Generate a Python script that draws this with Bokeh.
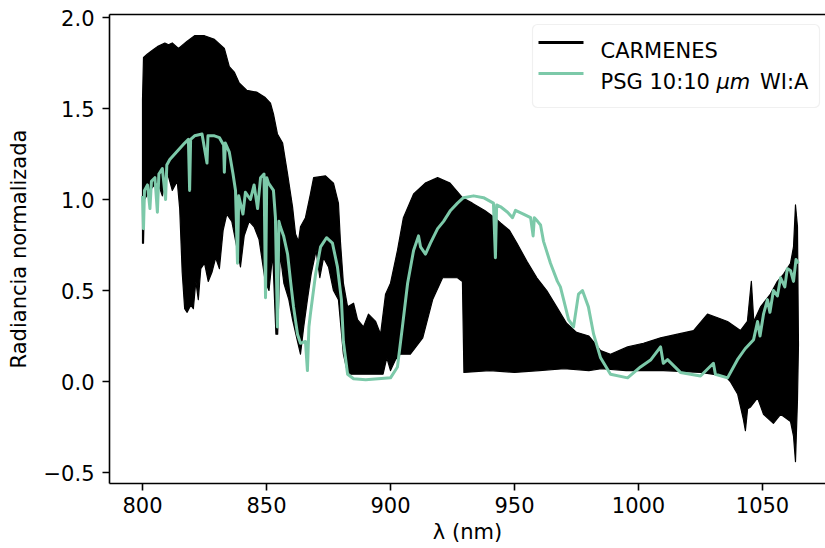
from bokeh.plotting import figure
from bokeh.models import Range1d, LinearAxis, FixedTicker, BoxAnnotation, Label
from bokeh.embed import file_html
from bokeh.resources import INLINE

# ---------------- data ----------------
# CARMENES spectrum: upper and lower envelope of the dense black trace
carm_upper_nm = [800.0, 800.4, 802.0, 804.0, 806.0, 809.0, 810.5, 812.0, 814.5, 818.0,
                 821.0, 825.0, 829.0, 833.0, 835.0, 837.0, 839.0, 842.0, 846.0, 849.5,
                 851.6, 852.8, 854.4, 856.5, 858.5, 860.5, 861.7, 862.9, 863.7, 865.7,
                 867.7, 869.0, 873.8, 877.0, 879.0, 879.8, 881.0, 882.7, 885.1, 886.7,
                 889.1, 891.1, 894.0, 896.0, 898.0, 900.0, 902.8, 905.2, 909.3, 914.0,
                 919.0, 924.0, 929.0, 933.0, 938.0, 942.0, 944.5, 948.0, 951.0, 955.0,
                 959.0, 963.0, 967.0, 971.0, 975.0, 980.0, 983.0, 984.7, 988.7, 995.6,
                 1002.0, 1008.9, 1015.7, 1022.2, 1027.8, 1031.9, 1035.9, 1041.1, 1043.9, 1045.5,
                 1046.5, 1049.2, 1053.2, 1056.0, 1058.5, 1061.3, 1062.5, 1063.3, 1064.1, 1064.5]
carm_upper_val = [1.55, 1.78, 1.80, 1.82, 1.84, 1.86, 1.85, 1.86, 1.83, 1.87,
                  1.90, 1.90, 1.88, 1.83, 1.73, 1.70, 1.64, 1.60, 1.59, 1.56,
                  1.53, 1.47, 1.36, 1.31, 1.14, 0.96, 0.81, 0.77, 0.85, 0.90,
                  1.03, 1.12, 1.13, 1.09, 0.98, 0.77, 0.54, 0.41, 0.43, 0.34,
                  0.30, 0.37, 0.33, 0.26, 0.48, 0.54, 0.72, 0.90, 1.03, 1.09,
                  1.12, 1.09, 1.01, 0.98, 0.94, 0.90, 0.87, 0.83, 0.76, 0.66,
                  0.57, 0.50, 0.41, 0.32, 0.27, 0.25, 0.20, 0.17, 0.15, 0.19,
                  0.21, 0.24, 0.26, 0.28, 0.37, 0.35, 0.33, 0.28, 0.33, 0.55,
                  0.33, 0.41, 0.48, 0.55, 0.59, 0.65, 0.74, 0.97, 0.85, 0.20]

carm_lower_nm = [800.0, 800.4, 800.8, 803.0, 806.0, 808.0, 810.0, 812.0, 814.0, 815.0,
                 816.0, 817.0, 818.0, 819.5, 820.5, 821.5, 822.5, 823.5, 825.0, 826.5,
                 828.0, 829.5, 831.0, 832.5, 834.0, 836.0, 838.0, 839.5, 841.0, 843.0,
                 845.0, 847.0, 849.5, 851.0, 852.5, 853.8, 854.5, 855.5, 857.0, 859.0,
                 860.5, 862.5, 863.7, 865.0, 866.5, 868.0, 870.0, 871.5, 873.0, 875.0,
                 877.0, 879.0, 880.0, 881.0, 882.5, 884.0, 897.0, 898.5, 900.0, 902.0,
                 904.0, 908.0, 913.0, 917.0, 921.0, 927.0, 929.0, 929.6, 940.0, 950.0,
                 960.0, 970.0, 980.0, 985.0, 995.0, 1010.0, 1025.0, 1035.0, 1037.0, 1040.0,
                 1042.3, 1043.1, 1044.0, 1045.2, 1048.0, 1050.4, 1054.4, 1057.3, 1061.3, 1062.5,
                 1063.3, 1064.1, 1064.5]
carm_lower_val = [0.76, 0.76, 1.00, 1.05, 1.10, 1.02, 1.15, 1.05, 1.10, 0.95,
                  0.60, 0.40, 0.38, 0.42, 0.40, 0.55, 0.45, 0.62, 0.65, 0.55,
                  0.60, 0.68, 0.62, 0.83, 0.92, 0.88, 0.74, 0.63, 0.80, 0.88,
                  0.85, 0.78, 0.55, 0.50, 0.70, 0.26, 0.26, 0.70, 0.54, 0.45,
                  0.34, 0.22, 0.15, 0.30, 0.45, 0.59, 0.72, 0.57, 0.68, 0.63,
                  0.50, 0.45, 0.30, 0.15, 0.06, 0.04, 0.04, 0.13, 0.06, 0.12,
                  0.15, 0.15, 0.24, 0.45, 0.57, 0.57, 0.55, 0.05, 0.06, 0.05,
                  0.06, 0.07, 0.06, 0.07, 0.06, 0.06, 0.05, 0.03, 0.00, -0.07,
                  -0.21, -0.27, -0.15, -0.14, -0.09, -0.18, -0.23, -0.18, -0.22, -0.30,
                  -0.44, -0.10, 0.20]

# PSG 10:10 um WI:A model
psg_nm = [800.0, 800.4, 800.8, 802.0, 803.0, 803.6, 805.0, 806.0, 806.6, 808.0,
          809.3, 809.8, 811.0, 813.0, 815.0, 817.0, 818.5, 819.0, 819.4, 821.0,
          824.0, 826.0, 826.4, 829.0, 831.0, 832.7, 833.0, 833.4, 835.0, 836.5,
          837.5, 838.3, 838.8, 840.5, 841.5, 843.5, 845.0, 846.4, 847.6, 849.0,
          849.6, 850.1, 850.8, 852.8, 853.6, 854.4, 855.0, 855.6, 856.9, 858.5,
          859.7, 860.9, 862.5, 863.7, 865.7, 866.5, 867.1, 867.7, 869.8, 871.8,
          874.2, 876.6, 878.6, 880.2, 881.0, 882.7, 885.1, 890.0, 895.0, 900.0,
          902.8, 904.8, 906.9, 909.3, 911.3, 912.1, 914.1, 916.1, 919.0, 921.4,
          924.2, 927.0, 929.4, 933.5, 937.5, 941.5, 942.3, 942.8, 944.4, 947.2,
          949.2, 950.4, 953.6, 956.5, 957.5, 958.0, 959.3, 960.5, 961.7, 964.5,
          967.3, 968.5, 969.8, 971.8, 973.8, 975.8, 977.4, 979.8, 981.9, 984.7,
          988.7, 995.6, 1000.8, 1005.0, 1008.9, 1010.0, 1011.7, 1016.9, 1025.0, 1030.2,
          1031.0, 1035.9, 1039.9, 1043.0, 1046.4, 1048.0, 1049.0, 1050.4, 1052.0, 1053.0,
          1054.4, 1056.0, 1057.3, 1059.0, 1060.0, 1061.3, 1062.5, 1063.5, 1064.5]
psg_val = [1.02, 0.84, 1.05, 1.08, 0.95, 1.10, 1.12, 0.93, 1.14, 1.17,
           1.00, 1.19, 1.22, 1.25, 1.28, 1.31, 1.33, 1.05, 1.33, 1.35,
           1.36, 1.20, 1.35, 1.35, 1.34, 1.30, 1.15, 1.31, 1.26, 1.14,
           1.05, 0.65, 1.02, 0.92, 1.04, 1.00, 1.08, 0.95, 1.12, 1.14,
           0.46, 1.12, 1.09, 1.05, 0.90, 0.30, 0.88, 0.85, 0.80, 0.70,
           0.55, 0.41, 0.26, 0.21, 0.22, 0.06, 0.30, 0.37, 0.59, 0.74,
           0.79, 0.76, 0.63, 0.45, 0.22, 0.04, 0.015, 0.01, 0.015, 0.02,
           0.08, 0.30, 0.54, 0.72, 0.80, 0.74, 0.70, 0.76, 0.84, 0.88,
           0.94, 0.98, 1.01, 1.02, 1.01, 0.98, 0.68, 0.97, 0.96, 0.93,
           0.90, 0.94, 0.92, 0.90, 0.80, 0.90, 0.88, 0.86, 0.77, 0.65,
           0.55, 0.52, 0.45, 0.34, 0.30, 0.48, 0.50, 0.41, 0.26, 0.13,
           0.04, 0.02, 0.08, 0.12, 0.19, 0.10, 0.12, 0.05, 0.03, 0.10,
           0.04, 0.02, 0.12, 0.18, 0.23, 0.33, 0.25, 0.37, 0.45, 0.38,
           0.50, 0.47, 0.57, 0.52, 0.62, 0.61, 0.55, 0.67, 0.65]

x_ticks = [800, 850, 900, 950, 1000, 1050]
y_ticks = [-0.5, 0.0, 0.5, 1.0, 1.5, 2.0]
y_tick_labels = ["\u22120.5", "0.0", "0.5", "1.0", "1.5", "2.0"]
series_labels = ["CARMENES", "PSG 10:10", "\u03bcm", "WI:A"]
y_label = "Radiancia normalizada"
x_label = "\u03bb (nm)"

# ---------------- styling ----------------
FONT = "DejaVu Sans"
FS = "21px"
GREEN = "#7cc9a9"

p = figure(width=825, height=548, output_backend="svg", toolbar_location=None,
           x_range=Range1d(786.69, 1075.4), y_range=Range1d(-0.5604, 2.0165),
           min_border_left=109, min_border_right=0, min_border_top=14,
           min_border_bottom=65)
p.background_fill_color = "white"
p.border_fill_color = "white"
p.outline_line_color = None
p.xgrid.visible = False
p.ygrid.visible = False

for ax in (p.xaxis[0], p.yaxis[0]):
    ax.axis_line_color = "black"
    ax.axis_line_width = 1.6
    ax.major_tick_line_color = "black"
    ax.major_tick_line_width = 1.6
    ax.major_tick_out = 7
    ax.major_tick_in = 0
    ax.minor_tick_out = 0
    ax.minor_tick_in = 0
    ax.major_label_text_font = FONT
    ax.major_label_text_font_size = FS
    ax.major_label_text_color = "black"
    ax.axis_label_text_font = FONT
    ax.axis_label_text_font_size = FS
    ax.axis_label_text_font_style = "normal"
    ax.axis_label_text_color = "black"

p.xaxis.ticker = FixedTicker(ticks=x_ticks)
p.xaxis.major_label_standoff = 6
p.xaxis.axis_label = x_label
p.xaxis.axis_label_standoff = 4
p.yaxis.ticker = FixedTicker(ticks=y_ticks)
p.yaxis.major_label_overrides = {t: s for t, s in zip(y_ticks, y_tick_labels)}
p.yaxis.major_label_standoff = 8
p.yaxis.axis_label = y_label
p.yaxis.axis_label_standoff = 10

top_ax = LinearAxis(ticker=FixedTicker(ticks=[]), axis_line_color="black",
                    axis_line_width=1.6, major_tick_out=0, major_tick_in=0,
                    minor_tick_out=0, minor_tick_in=0,
                    major_label_text_font_size="0px")
p.add_layout(top_ax, "above")

# CARMENES band (upper envelope forward, lower envelope backward)
band_x = carm_upper_nm + carm_lower_nm[::-1]
band_y = carm_upper_val + carm_lower_val[::-1]
p.patch(band_x, band_y, fill_color="black", line_color="black", line_width=1.2,
        line_join="round")

# PSG model
p.line(psg_nm, psg_val, line_color=GREEN, line_width=3, line_join="round")

# legend
p.add_layout(BoxAnnotation(left=423, right=710, top=459, bottom=376,
                           left_units="screen", right_units="screen",
                           top_units="screen", bottom_units="screen",
                           fill_color="white", fill_alpha=0.8,
                           line_color="#cccccc", line_width=1.2, border_radius=5))
p.add_layout(BoxAnnotation(left=429, right=474, top=442.5, bottom=439.5,
                           left_units="screen", right_units="screen",
                           top_units="screen", bottom_units="screen",
                           fill_color="black", fill_alpha=1.0, line_color=None))
p.add_layout(BoxAnnotation(left=429, right=474, top=411.5, bottom=408.5,
                           left_units="screen", right_units="screen",
                           top_units="screen", bottom_units="screen",
                           fill_color=GREEN, fill_alpha=1.0, line_color=None))
legend_x = [491, 491, 607, 650.5]
legend_y = [433, 402, 402, 402]
legend_style = ["normal", "normal", "italic", "normal"]
for t, lx, ly, st in zip(series_labels, legend_x, legend_y, legend_style):
    p.add_layout(Label(x=lx, y=ly, x_units="screen", y_units="screen", text=t,
                       text_font=FONT, text_font_size=FS, text_font_style=st,
                       text_color="black", text_baseline="alphabetic",
                       text_align="left"))

open("out.html", "w").write(file_html(p, INLINE))
